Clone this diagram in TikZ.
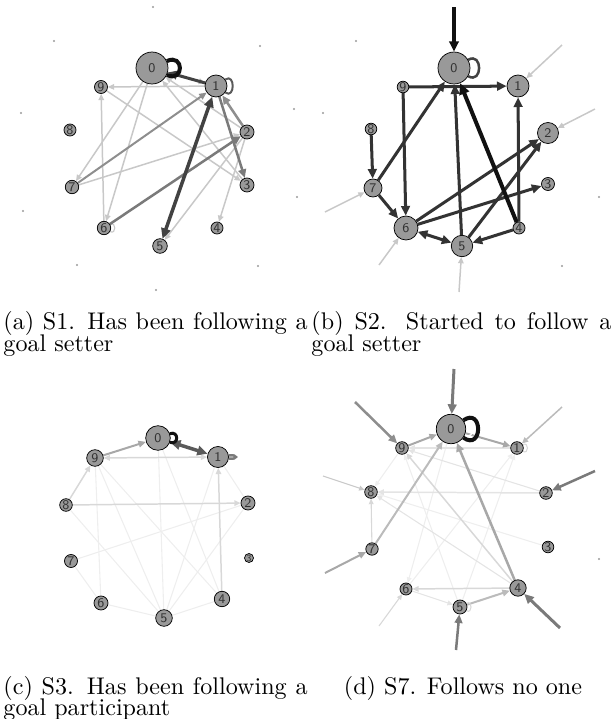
\documentclass[tikz,border=0pt]{standalone}
\usetikzlibrary{arrows.meta}
\pgfdeclarelayer{edges}
\pgfsetlayers{edges,main}
\definecolor{ng}{HTML}{999999}
\definecolor{lbl}{HTML}{333333}
\definecolor{k1}{HTML}{111111}
\definecolor{k2}{HTML}{333333}
\definecolor{k3}{HTML}{424242}
\definecolor{m1}{HTML}{5a5a5a}
\definecolor{m2}{HTML}{7a7a7a}
\definecolor{m3}{HTML}{8e8e8e}
\definecolor{l1}{HTML}{a8a8a8}
\definecolor{l2}{HTML}{bbbbbb}
\definecolor{l3}{HTML}{c8c8c8}
\definecolor{v1}{HTML}{d8d8d8}
\definecolor{v2}{HTML}{e4e4e4}
\definecolor{v3}{HTML}{eeeeee}
\definecolor{spk}{HTML}{9a9a9a}
\begin{document}
\begin{tikzpicture}[x=0.415pt,y=-0.415pt,
  nd/.style={circle,draw=black,line width=0.3pt,fill=ng,inner sep=0pt,
    minimum size=#1*0.83pt,text=lbl,font=\fontsize{5.5}{6}\sffamily},
  w1/.style={line width=0.45pt,>={Triangle[length=2.3pt,width=2.0pt]}},
  w15/.style={line width=0.62pt,>={Triangle[length=2.6pt,width=2.3pt]}},
  w2/.style={line width=0.83pt,>={Triangle[length=3.1pt,width=2.7pt]}},
  w25/.style={line width=1.04pt,>={Triangle[length=3.6pt,width=3.2pt]}},
  w3/.style={line width=1.25pt,>={Triangle[length=4.0pt,width=3.6pt]}},
  w35/.style={line width=1.45pt,>={Triangle[length=4.3pt,width=3.9pt]}},
  w4/.style={line width=1.66pt,>={Triangle[length=4.6pt,width=4.2pt]}},
  speck/.style={fill=spk,draw=none},
  captxt/.style={inner sep=0pt,anchor=base west},
]
\useasboundingbox (0,0) rectangle (615,719);

% ---------------- panel (a)
\node[nd=16] (a0) at (152,68) {0};
\node[nd=11] (a1) at (216,86) {1};
\node[nd=6.5] (a9) at (101,87) {9};
\node[nd=6] (a8) at (70,130) {8};
\node[nd=7] (a2) at (247,132) {2};
\node[nd=6.7] (a7) at (72,187) {7};
\node[nd=7] (a3) at (247,185) {3};
\node[nd=6.7] (a6) at (104,228) {6};
\node[nd=6] (a4) at (217,228) {4};
\node[nd=7.3] (a5) at (160,246) {5};

% ---------------- panel (b)
\node[nd=16] (b0) at (454,68) {0};
\node[nd=11] (b1) at (518,86) {1};
\node[nd=5.5] (b9) at (403,87) {9};
\node[nd=5.5] (b8) at (371,129) {8};
\node[nd=10.5] (b2) at (548,133) {2};
\node[nd=9] (b7) at (373,188) {7};
\node[nd=6.5] (b3) at (548,184) {3};
\node[nd=12] (b6) at (406,228) {6};
\node[nd=6] (b4) at (519,228) {4};
\node[nd=10.7] (b5) at (462,246) {5};

% ---------------- panel (c)
\node[nd=12.3] (c0) at (158,438) {0};
\node[nd=10.5] (c1) at (218,457) {1};
\node[nd=8.3] (c9) at (95,458) {9};
\node[nd=6.3] (c8) at (66,505) {8};
\node[nd=7] (c2) at (248,503) {2};
\node[nd=6.5] (c7) at (71,561) {7};
\node[nd=4.5,font=\fontsize{3.8}{4}\sffamily] (c3) at (249,558) {3};
\node[nd=7] (c6) at (101,603) {6};
\node[nd=7.7] (c4) at (222,599) {4};
\node[nd=8.3] (c5) at (164,618) {5};

% ---------------- panel (d)
\node[nd=14.7] (d0) at (451,429) {0};
\node[nd=6.3] (d1) at (517,448) {1};
\node[nd=6.3] (d9) at (402,448) {9};
\node[nd=6.3] (d8) at (371,492) {8};
\node[nd=6.3] (d2) at (546,493) {2};
\node[nd=6.2] (d7) at (372,549) {7};
\node[nd=5.7] (d3) at (548,547) {3};
\node[nd=6] (d6) at (406,589) {6};
\node[nd=8.2] (d4) at (518,588) {4};
\node[nd=7] (d5) at (460,607) {5};

% outside end points
\coordinate (bx0) at (454,7);
\coordinate (bx1) at (562,45);
\coordinate (bx2) at (595,109);
\coordinate (bx7) at (325,212);
\coordinate (bx6) at (379,265);
\coordinate (bx5) at (459,292);
\coordinate (dx0) at (454,369);
\coordinate (dx9) at (355,402);
\coordinate (dx1) at (562,407);
\coordinate (dx8) at (323,476);
\coordinate (dx2) at (595,471);
\coordinate (dx7) at (325,573);
\coordinate (dx6) at (379,626);
\coordinate (dx5) at (456,650);
\coordinate (dx4) at (560,628);

\begin{pgfonlayer}{edges}
% specks
\foreach \p in {(153,7),(54,41),(260,46),(21,113),(294,109),(23,211),(297,197),(77,265),(258,266),(156,290),
  (356,41),(323,113),(599,197),(562,266),(599,559)}
  \fill[speck] \p circle (0.45pt);

% ---- (a) edges
\draw[w15,l2,->] (a0) -- (a1);
\draw[w15,l3,->] (a1) -- (a9);
\draw[w15,l3,->] (a0) -- (a7);
\draw[w15,l3,->] (a0) -- (a6);
\draw[w15,l3,->] (a6) -- (a9);
\draw[w15,l3,->] (a9) -- (a3);
\draw[w15,l3,->] (a7) -- (a2);
\draw[w15,l3,->] (a2) -- (a0);
\draw[w15,l3,->] (a3) -- (a0);
\draw[w15,l3,->] (a2) -- (a5);
\draw[w15,l3,->] (a2) -- (a4);
\draw[w1,l3] (a6) to[out=30,in=-30,distance=3pt] (a6);
\draw[w2,m3,->] (a7) -- (a1);
\draw[w25,m2,->] (a6) -- (a2);
\draw[w25,m3,->] (a2) -- (a1);
\draw[w25,m2,->] (a1) -- (a3);
\draw[w35,k3,<->] (a5) -- (a1);
\draw[w3,k3,->] (a1) -- (a0);
\draw[w4,k1] (a0) to[out=25,in=-25,distance=8pt] (a0);
\draw[w2,m1] (a1) to[out=35,in=-35,distance=5pt] (a1);

% ---- (b) edges
\draw[w15,l3,->] (bx1) -- (b1);
\draw[w15,l3,->] (bx2) -- (b2);
\draw[w15,l3,->] (bx7) -- (b7);
\draw[w15,l3,->] (bx6) -- (b6);
\draw[w15,l3,->] (bx5) -- (b5);
\draw[w3,k2,->] (b9) -- (b1);
\draw[w3,k2,->] (b9) -- (b6);
\draw[w3,k2,->] (b7) -- (b0);
\draw[w3,k2,->] (b8) -- (b7);
\draw[w3,k2,->] (b7) -- (b6);
\draw[w3,k2,->] (b5) -- (b0);
\draw[w3,k2,->] (b4) -- (b1);
\draw[w3,k2,->] (b4) -- (b5);
\draw[w3,k2,<->] (b6) -- (b5);
\draw[w3,k2,->] (b6) -- (b2);
\draw[w3,k2,->] (b5) -- (b2);
\draw[w3,k2,->] (b6) -- (b3);
\draw[w4,k1,->] (b4) -- (b0);
\draw[w35,k1,->] (bx0) -- (b0);
\draw[w25,k3] (b0) to[out=30,in=-30,distance=7pt] (b0);

% ---- (c) edges
\foreach \s/\t in {c0/c5,c0/c4,c9/c6,c9/c5,c9/c4,c8/c5,c7/c2,c7/c6,c6/c5,c5/c4,c5/c1,c5/c2,c1/c2}
  \draw[w1,v3] (\s) -- (\t);
\draw[w15,v1,->] (c8) -- (c9);
\draw[w15,v1,->] (c8) -- (c2);
\draw[w15,v1,->] (c4) -- (c1);
\draw[w15,v1,<->] (c1) -- (c9);
\draw[w2,l1,->] (c9) -- (c0);
\draw[w35,m1,<->] (c0) -- (c1);
\draw[w3,k1] (c0) to[out=20,in=-20,distance=4pt] (c0);
\draw[w25,m2] (c1) to[out=8,in=-8,distance=4pt] (c1);

% ---- (d) edges
\draw[w1,v3,->] (d6) -- (d1);
\draw[w1,v3,->] (d5) -- (d1);
\draw[w1,v3,->] (d5) -- (d9);
\draw[w1,v3,->] (d9) -- (d8);
\draw[w1,v3,->] (d0) -- (d6);
\draw[w1,v3,->] (d3) -- (d8);
\draw[w1,v2,->] (d4) -- (d8);
\draw[w1,v2,->] (d2) -- (d9);
\draw[w15,v2,->] (d2) -- (d8);
\draw[w15,v2,->] (d1) -- (d9);
\draw[w1,v1,->] (d7) -- (d8);
\draw[w15,v1,->] (d4) -- (d9);
\draw[w15,v1,->] (d4) -- (d6);
\draw[w1,v2,->] (d6) -- (d5);
\draw[w2,l2,->] (d5) -- (d4);
\draw[w2,l2,->] (d7) -- (d0);
\draw[w25,l1,->] (d4) -- (d0);
\draw[w2,l1,->] (d9) -- (d0);
\draw[w2,l1,->] (d0) -- (d1);
\draw[w1,v1] (d1) to[out=30,in=-30,distance=3pt] (d1);
\draw[w1,v1] (d5) to[out=30,in=-30,distance=3pt] (d5);
\draw[w1,v1,->] (dx6) -- (d6);
\draw[w1,l3,->] (dx8) -- (d8);
\draw[w15,l2,->] (dx1) -- (d1);
\draw[w2,l1,->] (dx7) -- (d7);
\draw[w25,m3,->] (dx9) -- (d9);
\draw[w25,m2,->] (dx2) -- (d2);
\draw[w25,m2,->] (dx5) -- (d5);
\draw[w3,m2,->] (dx4) -- (d4);
\draw[w3,m2,->] (dx0) -- (d0);
\draw[w4,k1] (d0) to[out=35,in=-35,distance=10pt] (d0);
\draw[line width=0.6pt,white] (d0) to[out=25,in=-25,distance=5pt] (d0);
\end{pgfonlayer}

% ---------------- captions
\node[captxt] (capa1) at (3,329) {\makebox[126.2pt][s]{(a) S1. Has been following a}};
\node[captxt] (capa2) at (3,351) {goal setter};
\node[captxt] (capb1) at (311,329) {\makebox[124.5pt][s]{(b) S2. Started to follow a}};
\node[captxt] (capb2) at (311,351) {goal setter};
\node[captxt] (capc1) at (3,694) {\makebox[126.2pt][s]{(c) S3. Has been following a}};
\node[captxt] (capc2) at (3,715) {goal participant};
\node[captxt,anchor=base] (capd1) at (463,694) {(d) S7. Follows no one};
\end{tikzpicture}
\end{document}
